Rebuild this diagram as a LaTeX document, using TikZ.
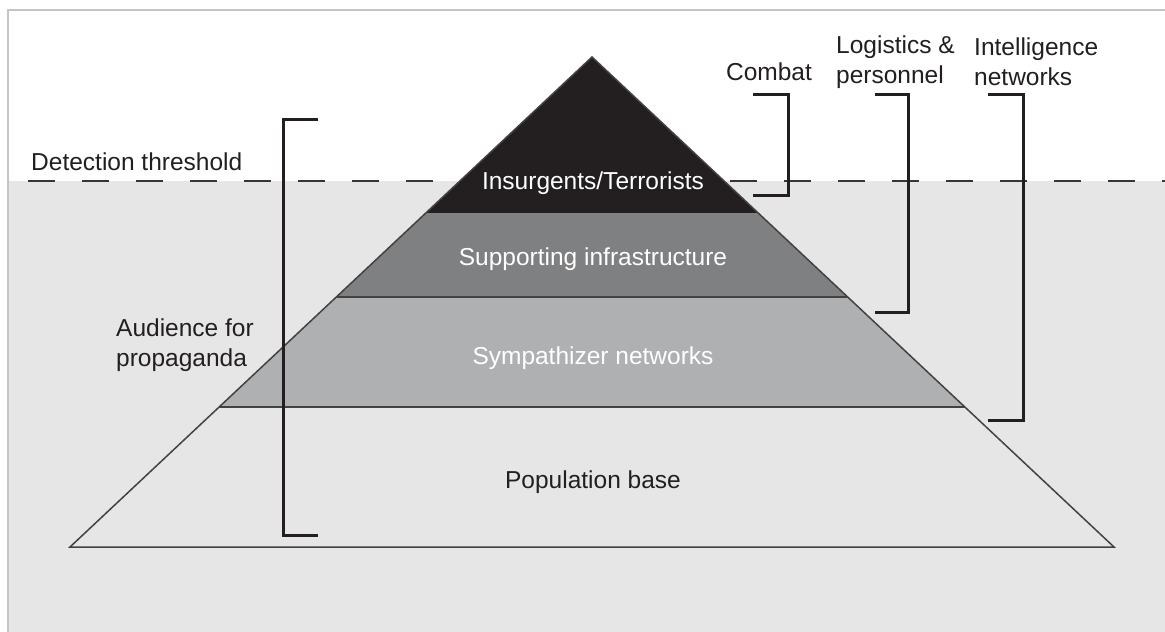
\documentclass[tikz,border=0pt]{standalone}
\usepackage{fontspec}
\setmainfont{Liberation Sans}
\usepackage{tikz}
\usetikzlibrary{calc}
\definecolor{bggray}{HTML}{E6E6E6}
\definecolor{framegray}{HTML}{C4C4C4}
\definecolor{inkdark}{HTML}{231F20}
\definecolor{supgray}{HTML}{7F8081}
\definecolor{symgray}{HTML}{AEB0B2}
\tikzset{
  lbl/.style={font=\fontsize{24.5}{30}\selectfont, text=inkdark, inner sep=0pt},
  lyr/.style={lbl, text=white},
  edge/.style={draw=inkdark!85, line width=1.5pt},
  brk/.style={draw=inkdark, line width=3pt}
}

\begin{document}
\begin{tikzpicture}[x=1pt,y=-1pt]
    \useasboundingbox (0,0) rectangle (1165,632);
    \fill[white] (0,0) rectangle (1165,632);
    \fill[bggray] (8,181) rectangle (1165,632); % below the threshold
    \draw[framegray, line width=2.5pt] (8,632) -- (8,10) -- (1165,10);

    % detection threshold
    \path (28,181) coordinate (T0) (1165,181) coordinate (T1);
    \draw[inkdark!90, line width=1.8pt, dash pattern=on 27pt off 27pt] (T0) -- (T1);

    % define the corners of the pyramid
    \path (592,57) coordinate (apex);
    \path (70,547) coordinate (bl);
    \path (1114,547) coordinate (br);
    \foreach \i/\f in {1/0.3184,2/0.4898,3/0.7143,4/1}{
      \path ($(apex)!\f!(bl)$) coordinate (L\i);
      \path ($(apex)!\f!(br)$) coordinate (R\i);
    }

    % layers, top to bottom
    \fill[inkdark] (apex) -- (R1) -- (L1) -- cycle;
    \fill[supgray] (L1) -- (R1) -- (R2) -- (L2) -- cycle;
    \fill[symgray] (L2) -- (R2) -- (R3) -- (L3) -- cycle;
    \draw[edge] (apex) -- (bl) -- (br) -- cycle;
    \draw[edge] (L2) -- (R2);
    \draw[edge] (L3) -- (R3);

    \path (593,183) node (ins) [lyr] {Insurgents/Terrorists};
    \path (593,259) node (sup) [lyr] {Supporting infrastructure};
    \path (593,358) node (sym) [lyr] {Sympathizer networks};
    \path (593,482) node (pop) [lbl] {Population base};

    % labels round the pyramid
    \path (31,162) node (det) [lbl, anchor=west] {Detection threshold};
    \path (116,345) node (aud) [lbl, anchor=west, align=left] {Audience for\\propaganda};
    \path (769,72) node (cmb) [lbl] {Combat};
    \path (836,62) node (log) [lbl, anchor=west, align=left] {Logistics \&\\personnel};
    \path (974,62) node (int) [lbl, anchor=west, align=left] {Intelligence\\networks};

    % brackets
    \path (318,119) coordinate (audT) (318,535) coordinate (audB);
    \path (753,94) coordinate (cmbT) (753,195) coordinate (cmbB);
    \path (875,94) coordinate (logT) (875,312) coordinate (logB);
    \path (988,94) coordinate (intT) (988,420) coordinate (intB);
    \draw[brk] (audT) -- ++(-35,0) |- (audB);
    \draw[brk] (cmbT) -- ++(35,0) |- (cmbB);
    \draw[brk] (logT) -- ++(33,0) |- (logB);
    \draw[brk] (intT) -- ++(35,0) |- (intB);
\end{tikzpicture}
\end{document}
